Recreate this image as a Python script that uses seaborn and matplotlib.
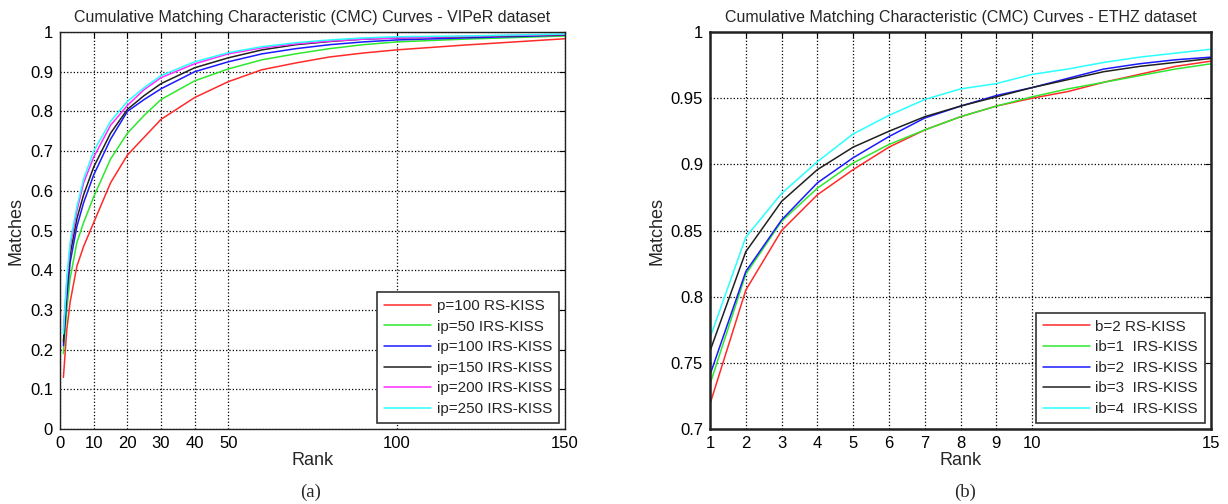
import numpy as np
import pandas as pd
import matplotlib
matplotlib.use('Agg')
import matplotlib.pyplot as plt
import seaborn as sns

#%% data

# (a) VIPeR
ranks_viper = [1, 2, 3, 5, 7, 10, 15, 20, 25, 30, 40, 50, 60, 70, 80, 90, 100, 120, 150]
p100_rs   = [0.13, 0.25, 0.32, 0.41, 0.46, 0.52, 0.62, 0.69, 0.735, 0.78, 0.835, 0.875, 0.905, 0.922, 0.937, 0.947, 0.955, 0.967, 0.983]
ip50_irs  = [0.19, 0.30, 0.38, 0.47, 0.52, 0.585, 0.68, 0.745, 0.79, 0.83, 0.877, 0.907, 0.93, 0.945, 0.958, 0.968, 0.975, 0.982, 0.99]
ip100_irs = [0.21, 0.33, 0.42, 0.51, 0.57, 0.64, 0.73, 0.80, 0.83, 0.857, 0.90, 0.925, 0.945, 0.958, 0.968, 0.975, 0.98, 0.985, 0.992]
ip150_irs = [0.22, 0.35, 0.44, 0.53, 0.59, 0.66, 0.745, 0.805, 0.84, 0.87, 0.91, 0.935, 0.955, 0.968, 0.976, 0.982, 0.985, 0.988, 0.993]
ip200_irs = [0.25, 0.37, 0.46, 0.55, 0.62, 0.685, 0.765, 0.815, 0.855, 0.885, 0.92, 0.945, 0.96, 0.97, 0.977, 0.982, 0.985, 0.989, 0.994]
ip250_irs = [0.24, 0.38, 0.47, 0.56, 0.63, 0.70, 0.775, 0.825, 0.86, 0.89, 0.925, 0.948, 0.963, 0.973, 0.98, 0.985, 0.988, 0.99, 0.995]
labels_viper = ['p=100 RS-KISS', 'ip=50 IRS-KISS', 'ip=100 IRS-KISS',
                'ip=150 IRS-KISS', 'ip=200 IRS-KISS', 'ip=250 IRS-KISS']

# (b) ETHZ
ranks_ethz = list(range(1, 16))
b2_rs  = [0.719, 0.805, 0.850, 0.877, 0.896, 0.913, 0.926, 0.936, 0.944, 0.950, 0.955, 0.962, 0.968, 0.974, 0.978]
ib1_irs = [0.734, 0.817, 0.857, 0.882, 0.901, 0.915, 0.926, 0.936, 0.944, 0.951, 0.957, 0.962, 0.967, 0.972, 0.976]
ib2_irs = [0.741, 0.819, 0.858, 0.886, 0.905, 0.921, 0.935, 0.944, 0.952, 0.958, 0.965, 0.972, 0.976, 0.979, 0.981]
ib3_irs = [0.759, 0.834, 0.872, 0.896, 0.913, 0.925, 0.936, 0.944, 0.951, 0.958, 0.964, 0.970, 0.974, 0.977, 0.980]
ib4_irs = [0.769, 0.845, 0.878, 0.902, 0.923, 0.937, 0.949, 0.957, 0.961, 0.968, 0.972, 0.977, 0.981, 0.984, 0.987]
labels_ethz = ['b=2 RS-KISS', 'ib=1  IRS-KISS', 'ib=2  IRS-KISS', 'ib=3  IRS-KISS', 'ib=4  IRS-KISS']

colors_a = ['#ff2a2a', '#2ee82e', '#1a1aff', '#202020', '#ff2aff', '#2affff']
colors_b = ['#ff2a2a', '#2ee82e', '#1a1aff', '#202020', '#2affff']

#%% long format for seaborn
df_a = pd.DataFrame({'Rank': ranks_viper})
for lab, vals in zip(labels_viper, [p100_rs, ip50_irs, ip100_irs, ip150_irs, ip200_irs, ip250_irs]):
    df_a[lab] = vals
df_a = df_a.melt(id_vars='Rank', var_name='method', value_name='Matches')

df_b = pd.DataFrame({'Rank': ranks_ethz})
for lab, vals in zip(labels_ethz, [b2_rs, ib1_irs, ib2_irs, ib3_irs, ib4_irs]):
    df_b[lab] = vals
df_b = df_b.melt(id_vars='Rank', var_name='method', value_name='Matches')

#%% plotting
sns.set_style('white')
plt.rcParams['font.family'] = ['Liberation Sans', 'DejaVu Sans']

fig = plt.figure(figsize=(12.28, 5.04), dpi=100)
ax1 = fig.add_axes([0.0489, 0.1488, 0.4112, 0.7877])
ax2 = fig.add_axes([0.5782, 0.1488, 0.4080, 0.7877])

sns.lineplot(data=df_a, x='Rank', y='Matches', hue='method', hue_order=labels_viper,
             palette=dict(zip(labels_viper, colors_a)), linewidth=1.1, ax=ax1)
sns.lineplot(data=df_b, x='Rank', y='Matches', hue='method', hue_order=labels_ethz,
             palette=dict(zip(labels_ethz, colors_b)), linewidth=1.1, ax=ax2)

ax1.set_xlim(0, 150)
ax1.set_ylim(0, 1)
ax1.set_xticks([0, 10, 20, 30, 40, 50, 100, 150])
ax1.set_yticks(np.arange(0, 1.01, 0.1))
ax1.set_yticklabels(['0', '0.1', '0.2', '0.3', '0.4', '0.5', '0.6', '0.7', '0.8', '0.9', '1'])
ax1.set_title('Cumulative Matching Characteristic (CMC) Curves - VIPeR dataset', fontsize=11.5, pad=7)

ax2.set_xlim(1, 15)
ax2.set_ylim(0.7, 1)
ax2.set_xticks([1, 2, 3, 4, 5, 6, 7, 8, 9, 10, 15])
ax2.set_yticks([0.7, 0.75, 0.8, 0.85, 0.9, 0.95, 1.0])
ax2.set_yticklabels(['0.7', '0.75', '0.8', '0.85', '0.9', '0.95', '1'])
ax2.set_title('Cumulative Matching Characteristic (CMC) Curves - ETHZ dataset', fontsize=11.5, pad=7)

for ax, lw in [(ax1, 1.0), (ax2, 1.8)]:
    ax.grid(True, linestyle=':', color='black', linewidth=0.9)
    ax.set_axisbelow(True)
    ax.set_xlabel('Rank', fontsize=13, labelpad=1)
    ax.set_ylabel('Matches', fontsize=13, labelpad=4)
    ax.tick_params(direction='in', length=4, width=0.8, labelsize=12, pad=5,
                   top=True, right=True, colors='black')
    for sp in ax.spines.values():
        sp.set_visible(True)
        sp.set_color('#222222')
        sp.set_linewidth(lw)
    handles, labs = ax.get_legend_handles_labels()
    leg = ax.legend(handles, labs, loc='lower right', fontsize=11, frameon=True, fancybox=False,
                    edgecolor='#333333', framealpha=1, borderaxespad=0.4, handlelength=3.1,
                    handletextpad=0.35, labelspacing=0.43, borderpad=0.45)
    leg.get_frame().set_linewidth(1.2)

fig.text(0.253, 0.014, '(a)', fontsize=13.5, family='Liberation Serif', ha='center')
fig.text(0.786, 0.014, '(b)', fontsize=13.5, family='Liberation Serif', ha='center')

plt.savefig('out.png', dpi=100)
